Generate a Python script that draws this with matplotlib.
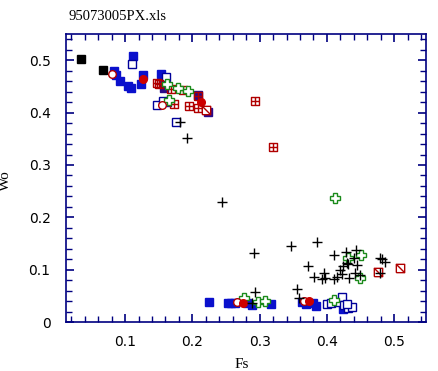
import matplotlib
matplotlib.use("Agg")
import matplotlib.pyplot as plt
from matplotlib.path import Path
from matplotlib.ticker import MultipleLocator

# ---- data (Fs, Wo) per symbol group ----
black_sq_fs = [0.0347, 0.0675]
black_sq_wo = [0.503, 0.482]

blue_fill_fs = [0.084, 0.087, 0.092, 0.105, 0.109, 0.112, 0.1235, 0.127, 0.153, 0.157,
                0.225, 0.253, 0.258, 0.263, 0.281, 0.289, 0.317,
                0.3626, 0.369, 0.380, 0.384, 0.4236]
blue_fill_wo = [0.479, 0.471, 0.461, 0.451, 0.448, 0.508, 0.455, 0.471, 0.474, 0.467,
                0.0375, 0.036, 0.036, 0.036, 0.036, 0.033, 0.034,
                0.0375, 0.034, 0.036, 0.031, 0.025]

navy_fill_fs = [0.158, 0.163, 0.209, 0.224]
navy_fill_wo = [0.448, 0.420, 0.433, 0.401]

blue_open_fs = [0.1106, 0.161, 0.147, 0.157, 0.176,
                0.400, 0.406, 0.417, 0.423, 0.4256, 0.431, 0.438, 0.4296]
blue_open_wo = [0.492, 0.468, 0.414, 0.422, 0.382,
                0.034, 0.036, 0.039, 0.048, 0.032, 0.026, 0.029, 0.034]

box_plus_fs = [0.147, 0.151, 0.168, 0.1855, 0.173, 0.195, 0.208, 0.208, 0.2936, 0.320]
box_plus_wo = [0.457, 0.454, 0.446, 0.443, 0.417, 0.412, 0.408, 0.431, 0.4218, 0.334]

green_fs = [0.162, 0.179, 0.193, 0.166, 0.277, 0.297, 0.308, 0.410, 0.412, 0.432, 0.451, 0.449]
green_wo = [0.454, 0.448, 0.441, 0.424, 0.046, 0.0375, 0.040, 0.042, 0.236, 0.1215, 0.128, 0.0845]

red_open_fs = [0.080, 0.155, 0.267, 0.3665]
red_open_wo = [0.473, 0.414, 0.0375, 0.040]

red_fill_fs = [0.127, 0.213, 0.276, 0.374]
red_fill_wo = [0.464, 0.420, 0.036, 0.041]

slash_fs = [0.220, 0.4757, 0.509]
slash_wo = [0.406, 0.0948, 0.1025]

plus_fs = [0.182, 0.1915, 0.2445, 0.291, 0.293, 0.288, 0.347, 0.386, 0.3715, 0.355, 0.358,
           0.397, 0.381, 0.392, 0.396, 0.411, 0.4147, 0.4196, 0.4236, 0.422, 0.428, 0.411,
           0.443, 0.4405, 0.4296, 0.432, 0.4454, 0.4335, 0.441, 0.449, 0.479, 0.482, 0.4856, 0.479]
plus_wo = [0.382, 0.352, 0.230, 0.132, 0.057, 0.037, 0.145, 0.153, 0.107, 0.063, 0.045,
           0.085, 0.0865, 0.083, 0.093, 0.082, 0.0865, 0.099, 0.107, 0.091, 0.134, 0.128,
           0.137, 0.1227, 0.112, 0.110, 0.109, 0.0845, 0.093, 0.0897, 0.1227, 0.120, 0.114, 0.093]

AXIS_COLOR = "#000080"

# square with a cross inside / square with a diagonal
M, L = Path.MOVETO, Path.LINETO
sq = [(-1, -1), (1, -1), (1, 1), (-1, 1), (-1, -1)]
box_plus = Path(sq + [(0, -1), (0, 1), (-1, 0), (1, 0)],
                [M, L, L, L, L, M, L, M, L])
box_slash = Path(sq + [(-1, 1), (1, -1)], [M, L, L, L, L, M, L])

fig = plt.figure(figsize=(4.39, 3.71), dpi=100)
ax = fig.add_axes([0.150, 0.132, 0.820, 0.776])

ax.plot(blue_fill_fs, blue_fill_wo, "s", ms=5.5, color="#0a10cc", mec="#0a10cc", ls="none")
ax.plot(navy_fill_fs, navy_fill_wo, "s", ms=5.5, color="#2a0a8a", mec="#2a0a8a", ls="none")
ax.plot(black_sq_fs, black_sq_wo, "s", ms=5.5, color="black", ls="none")
ax.plot(blue_open_fs, blue_open_wo, "s", ms=5.5, mfc="white", mec="#00009a", mew=1.0, ls="none")
ax.plot(box_plus_fs, box_plus_wo, marker=box_plus, ms=6, mfc="none", mec="#b00000", mew=1.0, ls="none")
ax.plot(green_fs, green_wo, "P", ms=6.5, mfc="white", mec="#1a8a1a", mew=1.0, ls="none")
ax.plot(red_open_fs, red_open_wo, "o", ms=5.5, mfc="white", mec="#b00000", mew=1.0, ls="none")
ax.plot(red_fill_fs, red_fill_wo, "o", ms=5.5, color="#cc0000", ls="none")
ax.plot(slash_fs, slash_wo, marker=box_slash, ms=6, mfc="white", mec="#b00000", mew=1.0, ls="none")
ax.plot(plus_fs, plus_wo, "+", ms=7, color="black", mew=1.0, ls="none")

ax.set_xlim(0.012, 0.547)
ax.set_ylim(0, 0.55)
ax.xaxis.set_minor_locator(MultipleLocator(0.02))
ax.yaxis.set_minor_locator(MultipleLocator(0.02))
ax.set_xticks([0.1, 0.2, 0.3, 0.4, 0.5])
ax.set_xticklabels(["0.1", "0.2", "0.3", "0.4", "0.5"])
ax.set_yticks([0, 0.1, 0.2, 0.3, 0.4, 0.5])
ax.set_yticklabels(["0", "0.1", "0.2", "0.3", "0.4", "0.5"])

for sp in ax.spines.values():
    sp.set_color(AXIS_COLOR)
    sp.set_linewidth(1.2)
ax.tick_params(which="both", direction="in", top=True, right=True, color=AXIS_COLOR,
               labelcolor="black", labelsize=10)
ax.tick_params(axis="x", pad=9)
ax.tick_params(axis="y", pad=11)
ax.tick_params(which="major", length=6, width=1.2)
ax.tick_params(which="minor", length=4, width=1.0)

serif = ["Liberation Serif", "DejaVu Serif"]
ax.set_xlabel("Fs", family=serif, fontsize=11)
ax.set_ylabel("Wo", family=serif, fontsize=11)
ax.xaxis.set_label_coords(0.489, -0.125)
ax.yaxis.set_label_coords(-0.15, 0.49)
fig.text(0.155, 0.955, "95073005PX.xls", family=serif, fontsize=10.5, ha="left", va="center")

fig.savefig("out.png", dpi=100)
